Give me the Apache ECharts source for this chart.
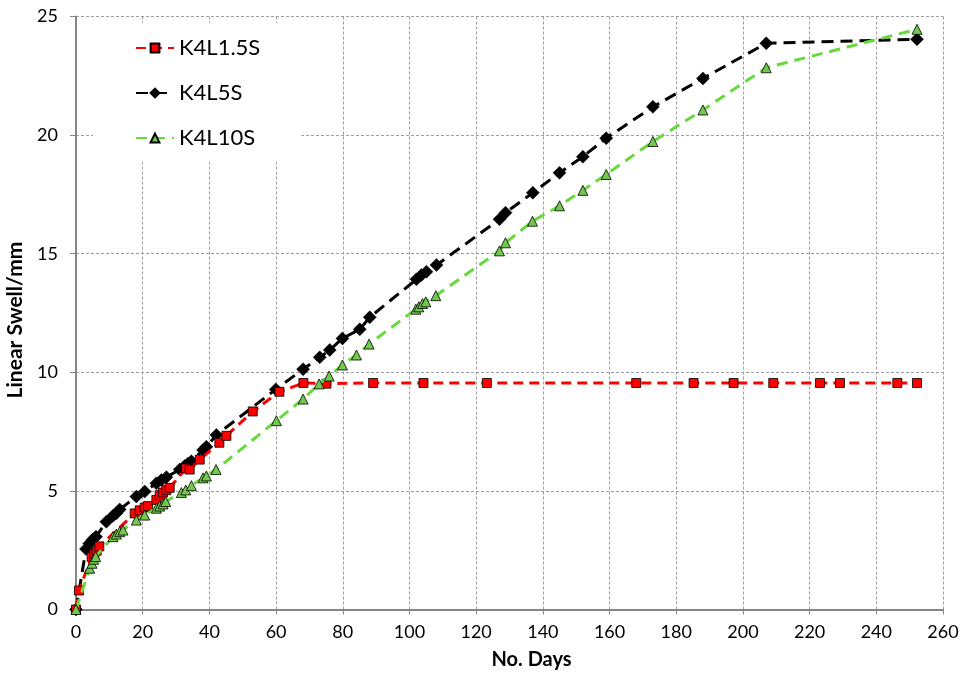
<!DOCTYPE html>
<html>
<head>
<meta charset="utf-8">
<script src="https://cdn.jsdelivr.net/npm/echarts@6/dist/echarts.min.js"></script>
<style>
html,body{margin:0;padding:0;background:#fff;}
#chart{width:960px;height:675px;}
</style>
</head>
<body>
<div id="chart"></div>
<script>
// Series names
const seriesNames = ['K4L1.5S', 'K4L5S', 'K4L10S'];

// K4L1.5S  [day, swell mm]
const k4l15sDays = [0, 0.9, 4.7, 5.5, 6.2, 7.0, 17.6, 19.1, 20.6, 21.6, 24.1, 25.1, 26.1, 27.1, 28.1, 33.0, 34.1, 37.1, 43.0, 45.1, 53.0, 61.0, 68.2, 75.1, 89.1, 104.2, 123.2, 168.0, 185.2, 197.2, 209.1, 223.1, 229.1, 246.3, 252.2];
const k4l15sVals = [0, 0.80, 2.22, 2.36, 2.48, 2.66, 4.05, 4.18, 4.30, 4.36, 4.62, 4.82, 4.93, 5.03, 5.13, 5.95, 5.90, 6.32, 7.03, 7.32, 8.35, 9.18, 9.55, 9.52, 9.55, 9.55, 9.55, 9.55, 9.55, 9.55, 9.55, 9.55, 9.55, 9.55, 9.55];

// K4L5S
const k4l5sDays = [0, 3.0, 4.0, 5.0, 6.0, 9.1, 11.1, 12.1, 13.1, 18.1, 20.6, 24.1, 25.6, 27.1, 31.1, 32.6, 33.6, 34.6, 38.1, 39.1, 42.1, 59.9, 68.1, 73.1, 76.1, 79.9, 85.1, 88.1, 102.1, 103.6, 105.1, 108.1, 127.0, 128.8, 137.0, 145.0, 152.0, 159.0, 173.0, 188.0, 207.0, 252.2];
const k4l5sVals = [0, 2.55, 2.78, 2.95, 3.07, 3.70, 3.95, 4.06, 4.22, 4.76, 4.97, 5.32, 5.46, 5.58, 5.90, 6.05, 6.15, 6.25, 6.72, 6.86, 7.36, 9.28, 10.13, 10.63, 10.94, 11.43, 11.81, 12.32, 13.92, 14.10, 14.24, 14.52, 16.45, 16.73, 17.57, 18.41, 19.09, 19.87, 21.19, 22.39, 23.87, 24.04];

// K4L10S
const k4l10sDays = [0, 4.1, 4.8, 5.3, 5.9, 11.1, 12.1, 13.1, 14.1, 18.1, 20.6, 24.1, 25.1, 26.1, 26.9, 31.6, 32.9, 34.6, 38.1, 39.1, 42.0, 60.1, 68.1, 72.9, 75.9, 79.9, 84.1, 87.9, 101.9, 102.8, 103.9, 104.9, 107.9, 127.0, 128.8, 136.9, 145.0, 152.0, 159.0, 173.0, 188.0, 207.0, 252.2];
const k4l10sVals = [0, 1.74, 1.95, 2.12, 2.23, 3.07, 3.18, 3.28, 3.35, 3.77, 3.98, 4.27, 4.36, 4.45, 4.55, 4.93, 5.04, 5.22, 5.55, 5.63, 5.90, 7.96, 8.87, 9.51, 9.84, 10.31, 10.73, 11.19, 12.66, 12.76, 12.90, 12.97, 13.23, 15.12, 15.46, 16.37, 17.02, 17.67, 18.34, 19.73, 21.06, 22.84, 24.46];

// Axis ticks
const xMin = 0, xMax = 260, xStep = 20;
const yMin = 0, yMax = 25, yStep = 5;

const pair = (d, v) => d.map((x, i) => [x, v[i]]);

const FONT = 'Lato, "Open Sans", "Noto Sans", sans-serif';
const chart = echarts.init(document.getElementById('chart'), null, {renderer: 'canvas'});

const lineDash = [10, 6];

chart.setOption({
  animation: false,
  backgroundColor: '#ffffff',
  grid: {left: 76, right: 17, top: 16.5, bottom: 65.5, containLabel: false, outerBoundsMode: 'none'},
  legend: {
    orient: 'vertical',
    left: 93,
    top: 23,
    padding: [13, 41, 12, 42],
    backgroundColor: '#ffffff',
    itemWidth: 38,
    itemHeight: 11,
    itemGap: 21,
    textStyle: {fontFamily: FONT, fontSize: 22, color: '#000', lineHeight: 24},
    data: seriesNames
  },
  xAxis: {
    type: 'value',
    min: xMin, max: xMax, interval: xStep,
    name: 'No. Days',
    nameLocation: 'middle',
    nameGap: 40,
    nameTextStyle: {fontFamily: FONT, fontSize: 20, fontWeight: 'bold', color: '#000', padding: [0, 0, 0, 44]},
    axisLine: {show: true, onZero: false, lineStyle: {color: '#868686', width: 2}},
    axisTick: {show: true, inside: false, length: 5, lineStyle: {color: '#868686'}},
    axisLabel: {fontFamily: FONT, fontSize: 18, color: '#000', margin: 14},
    splitLine: {show: true, lineStyle: {color: '#9e9e9e', width: 1, type: [3, 2]}}
  },
  yAxis: {
    type: 'value',
    min: yMin, max: yMax, interval: yStep,
    name: 'Linear Swell/mm',
    nameLocation: 'middle',
    nameGap: 40,
    nameTextStyle: {fontFamily: FONT, fontSize: 21, fontWeight: 'bold', color: '#000', padding: [0, 14, 0, 0]},
    axisLine: {show: true, onZero: false, lineStyle: {color: '#868686', width: 2}},
    axisTick: {show: true, inside: false, length: 6, lineStyle: {color: '#868686'}},
    axisLabel: {fontFamily: FONT, fontSize: 18, color: '#000', margin: 18},
    splitLine: {show: true, lineStyle: {color: '#9e9e9e', width: 1, type: [3, 2]}}
  },
  series: [
    {
      name: seriesNames[0],
      type: 'line',
      z: 3,
      data: pair(k4l15sDays, k4l15sVals),
      symbol: 'rect',
      symbolSize: 9,
      showAllSymbol: true,
      lineStyle: {color: '#ff0000', width: 3, type: lineDash},
      itemStyle: {color: '#ff0000', borderColor: '#000', borderWidth: 0.8}
    },
    {
      name: seriesNames[1],
      type: 'line',
      z: 2,
      data: pair(k4l5sDays, k4l5sVals),
      symbol: 'diamond',
      symbolSize: 13,
      showAllSymbol: true,
      lineStyle: {color: '#000000', width: 3, type: [12, 7]},
      itemStyle: {color: '#000000', borderColor: '#000', borderWidth: 0.5}
    },
    {
      name: seriesNames[2],
      type: 'line',
      z: 4,
      data: pair(k4l10sDays, k4l10sVals),
      symbol: 'triangle',
      symbolSize: 10,
      showAllSymbol: true,
      lineStyle: {color: '#66d93c', width: 3, type: [11, 7]},
      itemStyle: {color: '#72c84d', borderColor: '#000', borderWidth: 0.8}
    }
  ]
});
</script>
</body>
</html>
